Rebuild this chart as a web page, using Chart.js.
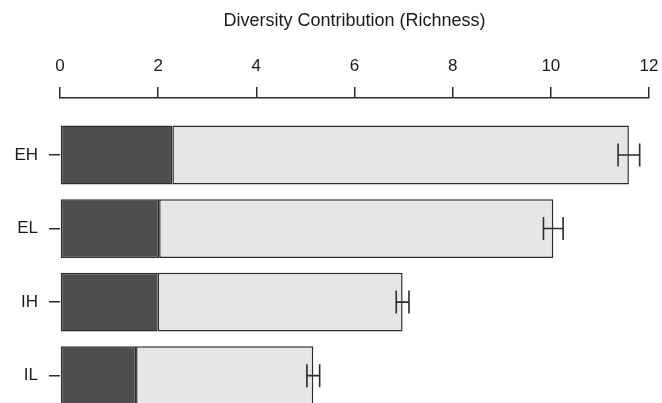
<!DOCTYPE html>
<html>
<head>
<meta charset="utf-8">
<script src="https://cdn.jsdelivr.net/npm/chart.js@4.4.0/dist/chart.umd.min.js"></script>
<style>
  html, body { margin: 0; padding: 0; background: #fff; overflow: hidden; }
  #wrap { position: relative; width: 662px; height: 435px; }
</style>
</head>
<body>
<div id="wrap"><canvas id="chart"></canvas></div>
<script>
// site groups, top to bottom
const groups = ['EH', 'EL', 'IH', 'IL'];
// alpha part (dark) and total richness (end of light bar)
const alphaRich = [2.29, 2.02, 1.99, 1.55];
const totalRich = [11.59, 10.05, 6.98, 5.16];
// error (+/-) around the total
const totalErr = [0.22, 0.20, 0.13, 0.13];
const xTicks = [0, 2, 4, 6, 8, 10, 12];

const yPos = groups.map((g, i) => i);
const font = 'Liberation Sans, Arial, Helvetica, sans-serif';

const errorBars = {
    id: 'errorBars',
    afterDatasetsDraw(chart) {
        const ctx = chart.ctx;
        const xs = chart.scales.x;
        const ys = chart.scales.y;
        ctx.save();
        ctx.strokeStyle = '#2b2b2b';
        ctx.lineWidth = 1.6;
        totalRich.forEach((v, i) => {
            const x1 = xs.getPixelForValue(v - totalErr[i]);
            const x2 = xs.getPixelForValue(v + totalErr[i]);
            const y = ys.getPixelForValue(yPos[i]);
            const h = 11.5;
            ctx.beginPath();
            ctx.moveTo(x1, y); ctx.lineTo(x2, y);
            ctx.moveTo(x1, y - h); ctx.lineTo(x1, y + h);
            ctx.moveTo(x2, y - h); ctx.lineTo(x2, y + h);
            ctx.stroke();
        });
        ctx.restore();
    }
};

new Chart(document.getElementById('chart'), {
    type: 'bar',
    data: {
        datasets: [
            {
                label: 'alpha',
                data: alphaRich.map((v, i) => ({ x: v, y: yPos[i] })),
                backgroundColor: '#4d4d4d',
                borderColor: '#2b2b2b',
                borderWidth: 1.5,
                borderSkipped: false,
                grouped: false
            },
            {
                label: 'total',
                data: totalRich.map((v, i) => ({ x: [alphaRich[i], v], y: yPos[i] })),
                backgroundColor: '#e5e6e5',
                borderColor: '#2b2b2b',
                borderWidth: 1.5,
                borderSkipped: false,
                grouped: false
            }
        ]
    },
    options: {
        indexAxis: 'y',
        responsive: true,
        maintainAspectRatio: false,
        animation: false,
        barPercentage: 0.8,
        categoryPercentage: 1,
        layout: { padding: { left: 0, right: 13, top: 0, bottom: 2 } },
        plugins: {
            legend: { display: false },
            tooltip: { enabled: false }
        },
        scales: {
            x: {
                type: 'linear',
                position: 'top',
                min: 0,
                max: 12,
                afterBuildTicks: s => { s.ticks = xTicks.map(v => ({ value: v })); },
                afterFit: s => {
                    s.height = 98;
                    s.paddingLeft = 0;
                    s.paddingRight = 0;
                },
                ticks: {
                    padding: 10,
                    color: '#1a1a1a',
                    font: { family: font, size: 17 }
                },
                grid: {
                    drawOnChartArea: false,
                    drawTicks: true,
                    tickLength: 11,
                    color: '#2b2b2b',
                    lineWidth: 1.5
                },
                border: { display: true, color: '#2b2b2b', width: 1.5 },
                title: {
                    display: true,
                    text: 'Diversity Contribution (Richness)',
                    color: '#1a1a1a',
                    font: { family: font, size: 18 },
                    padding: { top: 10, bottom: 0 }
                }
            },
            y: {
                type: 'linear',
                reverse: true,
                offset: false,
                min: -0.7755,
                max: 3.78,
                afterBuildTicks: s => { s.ticks = yPos.map(v => ({ value: v })); },
                afterFit: s => {
                    s.width = 60;
                    s.paddingTop = 0;
                    s.paddingBottom = 0;
                },
                ticks: {
                    padding: 11,
                    color: '#1a1a1a',
                    font: { family: font, size: 17 },
                    callback: v => groups[v]
                },
                grid: {
                    offset: false,
                    drawOnChartArea: false,
                    drawTicks: true,
                    tickLength: 11,
                    color: '#2b2b2b',
                    lineWidth: 1.5
                },
                border: { display: false }
            }
        }
    },
    plugins: [errorBars]
});
</script>
</body>
</html>
